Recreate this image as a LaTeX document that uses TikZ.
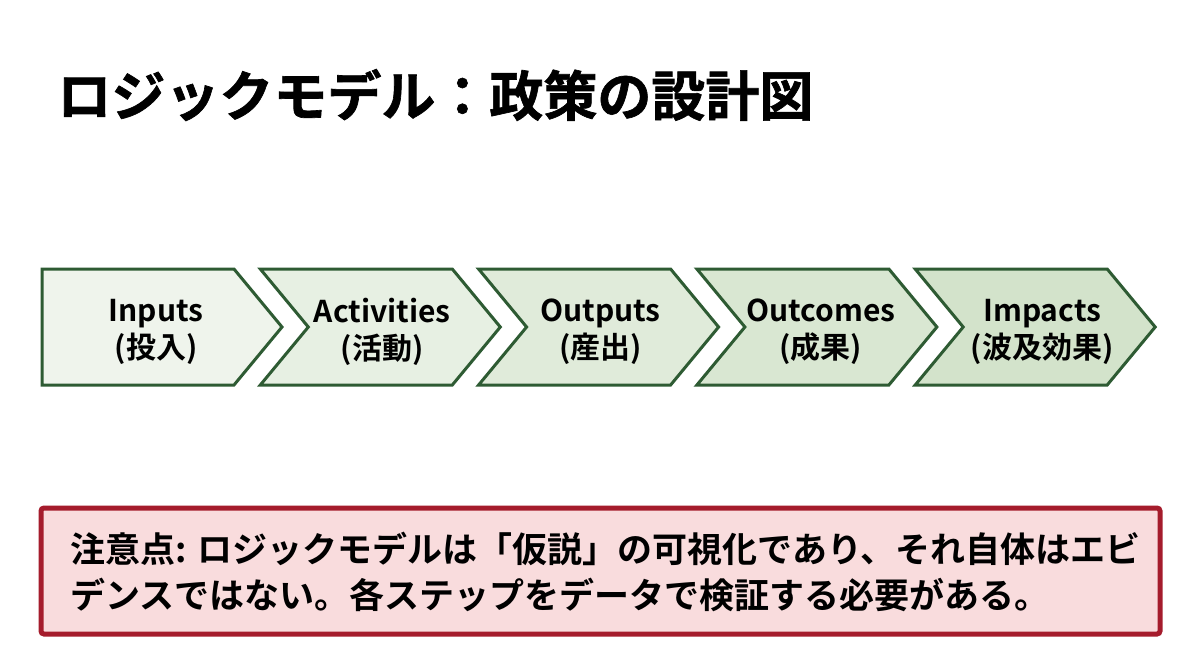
\documentclass[tikz,border=0pt]{standalone}
\usepackage{fontspec}
\setmainfont{Noto Sans CJK JP}[BoldFont={Noto Sans CJK JP Bold}]
\newfontfamily\titlefont{Noto Sans CJK JP Bold}[FakeBold=1.2]
\definecolor{bord}{HTML}{2E5B33}
\definecolor{ca}{HTML}{EFF4EC}
\definecolor{cb}{HTML}{E7F0E3}
\definecolor{cc}{HTML}{E0EBDA}
\definecolor{cd}{HTML}{D9E7D2}
\definecolor{ce}{HTML}{D3E3CB}
\definecolor{notebord}{HTML}{A51C2C}
\definecolor{notefill}{HTML}{F9DCDD}
\tikzset{
  chev/.style={draw=bord, line width=1.5pt, line join=miter},
  chevlabel/.style={align=center, font=\fontsize{15}{18.5}\selectfont\bfseries, text=black},
  titletext/.style={anchor=west, inner sep=0pt, font=\fontsize{27}{32}\selectfont\titlefont, text=black},
  notebox/.style={draw=notebord, fill=notefill, line width=2.5pt, rounded corners=1.5pt},
  notetext/.style={anchor=west, inner sep=0pt, align=left, font=\fontsize{17.5}{23}\selectfont\bfseries, text=black}
}
\begin{document}
\begin{tikzpicture}[x=0.5pt, y=-0.5pt]
\useasboundingbox (0,0) rectangle (1200,670);
\fill[white] (0,0) rectangle (1200,670);
\node[titletext] (title) at (57,95) {ロジックモデル：政策の設計図};
% chevrons
\foreach \i/\col/\dx/\txt in {0/ca/-8/{Inputs\\(投入)},1/cb/0/{Activities\\(活動)},2/cc/0/{Outputs\\(産出)},3/cd/2/{Outcomes\\(成果)},4/ce/5/{Impacts\\(波及効果)}}{
  \pgfmathsetmacro{\L}{42+218.3*\i}
  \pgfmathsetmacro{\S}{\L+192}
  \pgfmathsetmacro{\T}{\S+48}
  \pgfmathsetmacro{\N}{\i==0 ? \L : \L+48}
  \pgfmathsetmacro{\C}{(\L+\T)/2+2+\dx}
  \draw[chev, fill=\col] (\L,269) -- (\S,269) -- (\T,327) -- (\S,385) -- (\L,385) -- (\N,327) -- cycle;
  \node[chevlabel] (step\i) at (\C,332) {\txt};
}
% note
\draw[notebox] (41,508) rectangle (1160,634);
\node[notetext] (note) at (70,572) {注意点: ロジックモデルは「仮説」の可視化であり、それ自体はエビ\\デンスではない。各ステップをデータで検証する必要がある。};
\end{tikzpicture}
\end{document}
